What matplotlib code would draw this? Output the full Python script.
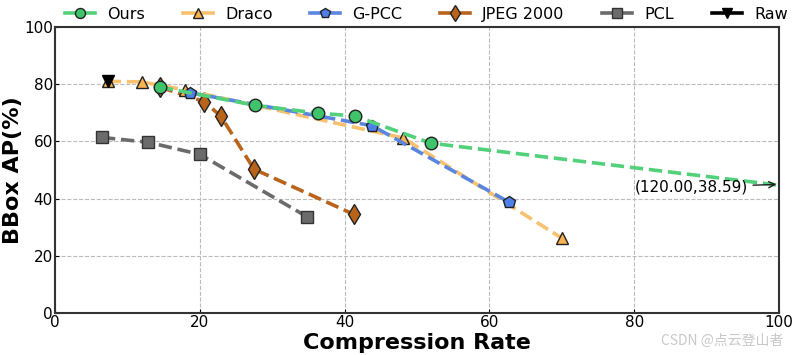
import matplotlib
matplotlib.use("Agg")
from matplotlib import pyplot as plt

# compression rate vs BBox AP(%)
ours_x = [14.5, 27.7, 36.3, 41.4, 51.9, 120.0]
ours_y = [79.0, 72.6, 69.9, 68.9, 59.4, 38.59]
draco_x = [7.3, 12.0, 18.0, 48.1, 70.0]
draco_y = [81.0, 80.8, 78.0, 61.2, 26.2]
gpcc_x = [18.7, 43.8, 62.7]
gpcc_y = [77.0, 65.5, 38.8]
jpeg_x = [14.5, 20.6, 22.9, 27.5, 41.3]
jpeg_y = [79.0, 73.9, 68.9, 50.3, 34.5]
pcl_x = [6.5, 12.9, 20.0, 34.8]
pcl_y = [61.4, 59.7, 55.5, 33.7]
raw_x = [7.3]
raw_y = [81.2]

fig = plt.figure(figsize=(7.95, 3.55), dpi=100)
ax = fig.add_axes([0.069, 0.118, 0.911, 0.806])

lw = 2.6
ms = 9
ax.plot(pcl_x, pcl_y, '--', color='#6b6b6b', lw=lw, marker='s', ms=ms,
        mfc='#6b6b6b', mec='#333333', label='PCL')
ax.plot(jpeg_x, jpeg_y, '--', color='#b8651b', lw=lw, marker='d', ms=ms + 1,
        mfc='#b8651b', mec='#222222', label='JPEG 2000')
ax.plot(draco_x, draco_y, '--', color='#f8c170', lw=lw, marker='^', ms=ms,
        mfc='#f6b350', mec='#222222', label='Draco')
ax.plot(gpcc_x, gpcc_y, '--', color='#5b86e0', lw=lw, marker='p', ms=ms,
        mfc='#4f7fe8', mec='#222222', label='G-PCC')
ax.plot(ours_x, ours_y, '--', color='#52d07a', lw=lw, marker='o', ms=ms,
        mfc='#3fc46c', mec='#222222', label='Ours')
ax.plot(raw_x, raw_y, '--', color='black', lw=lw, marker='v', ms=ms,
        mfc='black', mec='black', label='Raw')

ax.annotate('(120.00,38.59)', xy=(100, 45.0), xytext=(80.0, 44.0),
            fontsize=11, va='center', ha='left',
            arrowprops=dict(arrowstyle='->', color='#222222', lw=1))

ax.set_xlim(0, 100)
ax.set_ylim(0, 100)
ax.set_xticks([0, 20, 40, 60, 80, 100])
ax.set_yticks([0, 20, 40, 60, 80, 100])
ax.tick_params(direction='in', labelsize=11, length=3, pad=1.5)
ax.grid(True, linestyle='--', color='#bbbbbb', lw=0.8)
ax.set_axisbelow(True)
for s in ax.spines.values():
    s.set_linewidth(1.5)
    s.set_color('#333333')

ax.set_xlabel('Compression Rate', fontsize=16, fontweight='bold', labelpad=2)
ax.set_ylabel('BBox AP(%)', fontsize=16, fontweight='bold', labelpad=1)

h, l = ax.get_legend_handles_labels()
order = ['Ours', 'Draco', 'G-PCC', 'JPEG 2000', 'PCL', 'Raw']
hh = [h[l.index(o)] for o in order]
leg = ax.legend(hh, order, ncol=6, loc='lower center',
                bbox_to_anchor=(0.513, 0.995), frameon=False, fontsize=11.5,
                handlelength=1.9, handletextpad=0.75, columnspacing=2.35,
                borderaxespad=0, markerscale=0.8)
for ln in leg.get_lines():
    ln.set_linestyle('-')

fig.text(0.985, 0.02, 'CSDN @点云登山者', ha='right', va='bottom', fontsize=10,
         color='#c8c8c8', family=['Noto Sans CJK SC', 'DejaVu Sans'])

plt.savefig('out.png', dpi=100)
